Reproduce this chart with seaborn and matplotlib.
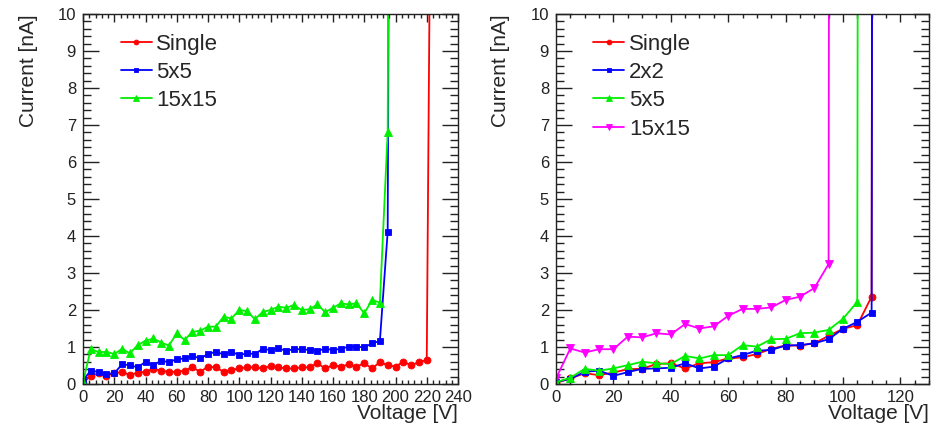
import matplotlib
matplotlib.use("Agg")
import matplotlib.pyplot as plt
from matplotlib.ticker import MultipleLocator
import seaborn as sns

sns.set_style("ticks")
plt.rcParams["font.family"] = ["Liberation Sans", "DejaVu Sans"]

# ---------------- data: left panel ----------------
left_single_v = [0, 5, 10, 15, 20, 25, 30, 35, 40, 45, 50, 55, 60, 65, 70, 75, 80, 85, 90, 95,
                 100, 105, 110, 115, 120, 125, 130, 135, 140, 145, 150, 155, 160, 165, 170, 175,
                 180, 185, 190, 195, 200, 205, 210, 215, 220, 225]
left_single_i = [0.03, 0.22, 0.29, 0.22, 0.29, 0.33, 0.24, 0.31, 0.33, 0.41,
                 0.36, 0.33, 0.33, 0.36, 0.45, 0.33, 0.47, 0.45, 0.33, 0.38,
                 0.42, 0.45, 0.45, 0.42, 0.49, 0.45, 0.42, 0.42, 0.45, 0.45,
                 0.56, 0.42, 0.51, 0.47, 0.53, 0.47, 0.56, 0.42, 0.59, 0.51,
                 0.47, 0.60, 0.51, 0.59, 0.65, 28.0]

left_5x5_v = [0, 5, 10, 15, 20, 25, 30, 35, 40, 45, 50, 55, 60, 65, 70, 75, 80, 85, 90, 95,
              100, 105, 110, 115, 120, 125, 130, 135, 140, 145, 150, 155, 160, 165, 170, 175,
              180, 185, 190, 195, 200]
left_5x5_i = [0.11, 0.36, 0.33, 0.27, 0.29, 0.53, 0.51, 0.45, 0.60, 0.51,
              0.63, 0.59, 0.67, 0.69, 0.76, 0.69, 0.81, 0.87, 0.80, 0.87,
              0.78, 0.83, 0.81, 0.95, 0.92, 0.96, 0.90, 0.94, 0.94, 0.92,
              0.90, 0.95, 0.92, 0.95, 1.01, 1.01, 0.99, 1.10, 1.16, 4.12, 60.0]

left_15x15_v = [0, 5, 10, 15, 20, 25, 30, 35, 40, 45, 50, 55, 60, 65, 70, 75, 80, 85, 90, 95,
                100, 105, 110, 115, 120, 125, 130, 135, 140, 145, 150, 155, 160, 165, 170, 175,
                180, 185, 190, 195, 200]
left_15x15_i = [0.05, 0.95, 0.86, 0.87, 0.81, 0.95, 0.83, 1.05, 1.17, 1.23,
                1.12, 1.04, 1.37, 1.19, 1.41, 1.44, 1.55, 1.55, 1.82, 1.77,
                2.00, 1.97, 1.75, 1.95, 2.00, 2.09, 2.06, 2.13, 2.00, 2.02,
                2.15, 1.94, 2.06, 2.18, 2.15, 2.18, 1.91, 2.27, 2.20, 6.82, 60.0]

# ---------------- data: right panel ----------------
right_single_v = [0, 5, 10, 15, 20, 25, 30, 35, 40, 45, 50, 55, 60, 65, 70, 75, 80, 85, 90, 95,
                  100, 105, 110, 111]
right_single_i = [0.03, 0.15, 0.29, 0.24, 0.31, 0.40, 0.41, 0.54, 0.56, 0.42,
                  0.56, 0.59, 0.69, 0.72, 0.81, 0.95, 1.04, 1.04, 1.10, 1.30,
                  1.49, 1.59, 2.36, 60.0]

right_2x2_v = [0, 5, 10, 15, 20, 25, 30, 35, 40, 45, 50, 55, 60, 65, 70, 75, 80, 85, 90, 95,
               100, 105, 110, 111]
right_2x2_i = [0.05, 0.14, 0.33, 0.36, 0.22, 0.32, 0.41, 0.42, 0.44, 0.56,
               0.42, 0.47, 0.69, 0.78, 0.90, 0.92, 1.04, 1.05, 1.10, 1.21,
               1.49, 1.68, 1.93, 60.0]

right_5x5_v = [0, 5, 10, 15, 20, 25, 30, 35, 40, 45, 50, 55, 60, 65, 70, 75, 80, 85, 90, 95,
               100, 105, 106]
right_5x5_i = [0.05, 0.17, 0.41, 0.36, 0.42, 0.51, 0.60, 0.56, 0.54, 0.76,
               0.69, 0.78, 0.78, 1.05, 1.01, 1.21, 1.22, 1.37, 1.39, 1.46,
               1.76, 2.22, 60.0]

right_15x15_v = [0, 5, 10, 15, 20, 25, 30, 35, 40, 45, 50, 55, 60, 65, 70, 75, 80, 85, 90, 95, 96]
right_15x15_i = [0.15, 0.96, 0.85, 0.94, 0.94, 1.28, 1.26, 1.37, 1.34, 1.62,
                 1.50, 1.56, 1.84, 2.03, 2.03, 2.07, 2.27, 2.36, 2.59, 3.24, 60.0]

RED, BLUE, GREEN, MAGENTA = "#ff0000", "#0000ff", "#00f000", "#ff00ff"

left_series = [
    ("Single", left_single_v, left_single_i, RED, "o", 5.0),
    ("5x5", left_5x5_v, left_5x5_i, BLUE, "s", 4.6),
    ("15x15", left_15x15_v, left_15x15_i, GREEN, "^", 5.2),
]
right_series = [
    ("Single", right_single_v, right_single_i, RED, "o", 5.0),
    ("2x2", right_2x2_v, right_2x2_i, BLUE, "s", 4.6),
    ("5x5", right_5x5_v, right_5x5_i, GREEN, "^", 5.2),
    ("15x15", right_15x15_v, right_15x15_i, MAGENTA, "v", 5.2),
]

fig = plt.figure(figsize=(9.36, 4.30), dpi=100)
ax_l = fig.add_axes([83 / 936, 1 - 384 / 430, 375 / 936, 370 / 430])
ax_r = fig.add_axes([556 / 936, 1 - 384 / 430, 373 / 936, 370 / 430])


def draw(ax, series, xmax, xmajor, xminor, ylab_x):
    for name, v, i, c, m, ms in series:
        sns.lineplot(x=v, y=i, ax=ax, color=c, marker=m, markersize=ms,
                     markeredgecolor=c, markeredgewidth=0.6, linewidth=1.3,
                     label=name, sort=False, estimator=None)
    ax.set_xlim(0, xmax)
    ax.set_ylim(0, 10)
    ax.xaxis.set_major_locator(MultipleLocator(xmajor))
    ax.xaxis.set_minor_locator(MultipleLocator(xminor))
    ax.yaxis.set_major_locator(MultipleLocator(1))
    ax.yaxis.set_minor_locator(MultipleLocator(0.2))
    ax.tick_params(which="both", direction="in", top=True, right=True,
                   colors="#222222", labelsize=12, width=1.0)
    ax.tick_params(axis="x", which="major", length=5.4, pad=4)
    ax.tick_params(axis="x", which="minor", length=2.6)
    ax.tick_params(axis="y", which="major", length=11.5, pad=5)
    ax.tick_params(axis="y", which="minor", length=5.8)
    for sp in ax.spines.values():
        sp.set_visible(True)
        sp.set_linewidth(1.0)
        sp.set_color("#222222")
    ax.set_xlabel("Voltage [V]", fontsize=15, ha="right", va="top")
    ax.xaxis.set_label_coords(1.0, -0.055)
    ax.set_ylabel("Current [nA]", fontsize=15, ha="right", va="center")
    ax.yaxis.set_label_coords(ylab_x, 1.0)
    leg = ax.legend(loc="upper left", bbox_to_anchor=(0.10, 0.947), frameon=False,
                    fontsize=16, handlelength=1.4, handletextpad=0.2,
                    labelspacing=0.33, borderpad=0, borderaxespad=0, markerscale=0.7)
    return leg


draw(ax_l, left_series, 240, 20, 4, -0.145)
draw(ax_r, right_series, 130, 20, 5, -0.15)

fig.savefig("out.png", dpi=100)
